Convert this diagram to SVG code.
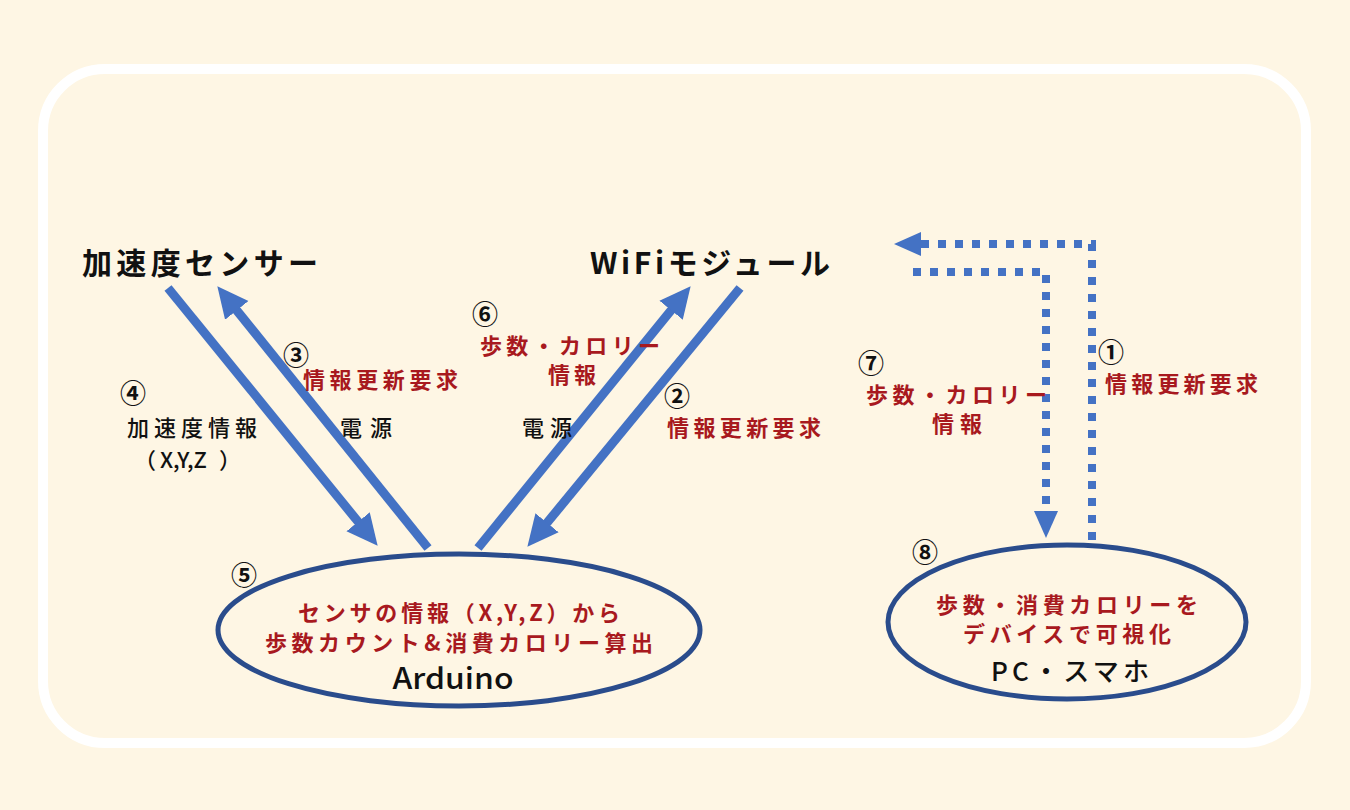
<svg xmlns="http://www.w3.org/2000/svg" width="1350" height="810" viewBox="0 0 1350 810">
<defs>
<style>
.t{font-family:"Noto Sans CJK JP","Noto Sans",sans-serif;}
.title{font-size:30px;font-weight:bold;fill:#111;}
.red{font-size:22px;font-weight:bold;fill:#A8191E;}
.blk{font-size:22px;font-weight:500;fill:#111;}
.num{font-size:26px;font-weight:bold;fill:#111;}
.solid{fill:none;stroke:#4472C4;stroke-width:9;}
.dot{fill:none;stroke:#4472C4;stroke-width:8;stroke-dasharray:8 9;}
.ell{fill:#FEF6E4;stroke:#2A4C8C;stroke-width:5;}
</style>
<marker id="ah" markerUnits="userSpaceOnUse" markerWidth="32" markerHeight="32" viewBox="0 0 32 32" refX="10" refY="16" orient="auto">
<path d="M0,1 L31,16 L0,31 z" fill="#4472C4"/>
</marker>
<marker id="ahd" markerUnits="userSpaceOnUse" markerWidth="28" markerHeight="26" viewBox="0 0 28 26" refX="4" refY="13" orient="auto">
<path d="M0,1 L27,13 L0,25 z" fill="#4472C4"/>
</marker>
</defs>
<rect x="0" y="0" width="1350" height="810" fill="#FEF6E4"/>
<rect x="43" y="69" width="1263" height="674" rx="62" fill="#FEF6E4" stroke="#FFFFFF" stroke-width="10"/>

<g id="connectors">
<line class="solid" x1="168" y1="288" x2="364.4" y2="529.5" marker-end="url(#ah)"/>
<line class="solid" x1="428" y1="548" x2="230.5" y2="302.6" marker-end="url(#ah)"/>
<line class="solid" x1="478" y1="548" x2="677.4" y2="302.5" marker-end="url(#ah)"/>
<line class="solid" x1="740" y1="288" x2="540.7" y2="530.5" marker-end="url(#ah)"/>
<path class="dot" d="M1092,540 V244 H917" marker-end="url(#ahd)"/>
<path class="dot" d="M913,272 H1046 V515" marker-end="url(#ahd)"/>
</g>

<g id="sensor">
<text class="t title" x="82" y="274" textLength="236" lengthAdjust="spacing">加速度センサー</text>
</g>
<g id="wifi">
<text class="t title" x="590" y="274" textLength="240" lengthAdjust="spacing">WiFiモジュール</text>
</g>

<g id="labels">
<text class="t num" x="296" y="365" text-anchor="middle">③</text>
<text class="t red" x="303" y="388" textLength="155" lengthAdjust="spacing">情報更新要求</text>
<text class="t num" x="133" y="403" text-anchor="middle">④</text>
<text class="t blk" x="127" y="436" textLength="130" lengthAdjust="spacing">加速度情報</text>
<text class="t blk" y="468"><tspan x="134">（</tspan><tspan x="160">X,Y,Z</tspan><tspan x="219">）</tspan></text>
<text class="t blk" x="340" y="436" textLength="52" lengthAdjust="spacing">電源</text>
<text class="t num" x="485" y="324" text-anchor="middle">⑥</text>
<text class="t red" x="480" y="354" textLength="180" lengthAdjust="spacing">歩数・カロリー</text>
<text class="t red" x="548" y="383" textLength="48" lengthAdjust="spacing">情報</text>
<text class="t blk" x="522" y="436" textLength="50" lengthAdjust="spacing">電源</text>
<text class="t num" x="677" y="406" text-anchor="middle">②</text>
<text class="t red" x="667" y="436" textLength="154" lengthAdjust="spacing">情報更新要求</text>
<text class="t num" x="1111" y="362" text-anchor="middle">①</text>
<text class="t red" x="1105" y="392" textLength="153" lengthAdjust="spacing">情報更新要求</text>
<text class="t num" x="871" y="373" text-anchor="middle">⑦</text>
<text class="t red" x="866" y="403" textLength="181" lengthAdjust="spacing">歩数・カロリー</text>
<text class="t red" x="932" y="432" textLength="50" lengthAdjust="spacing">情報</text>
</g>

<g id="arduino">
<ellipse class="ell" cx="459" cy="630" rx="241" ry="76"/>
<text class="t num" x="244" y="585" text-anchor="middle">⑤</text>
<text class="t red" x="459" y="621" text-anchor="middle" textLength="322" lengthAdjust="spacing">センサの情報（X,Y,Z）から</text>
<text class="t red" x="459" y="651" text-anchor="middle" textLength="388" lengthAdjust="spacing">歩数カウント&amp;消費カロリー算出</text>
<text class="t" x="453" y="689" text-anchor="middle" font-size="29" font-weight="500" fill="#111" textLength="121" lengthAdjust="spacingAndGlyphs">Arduino</text>
</g>

<g id="pc">
<ellipse class="ell" cx="1067" cy="622" rx="179" ry="77"/>
<text class="t num" x="925" y="562" text-anchor="middle">⑧</text>
<text class="t red" x="1067" y="613" text-anchor="middle" textLength="262" lengthAdjust="spacing">歩数・消費カロリーを</text>
<text class="t red" x="1067" y="642" text-anchor="middle" textLength="208" lengthAdjust="spacing">デバイスで可視化</text>
<text class="t" x="1070" y="681" text-anchor="middle" font-size="26" font-weight="500" fill="#111" textLength="158" lengthAdjust="spacing">PC・スマホ</text>
</g>
</svg>
